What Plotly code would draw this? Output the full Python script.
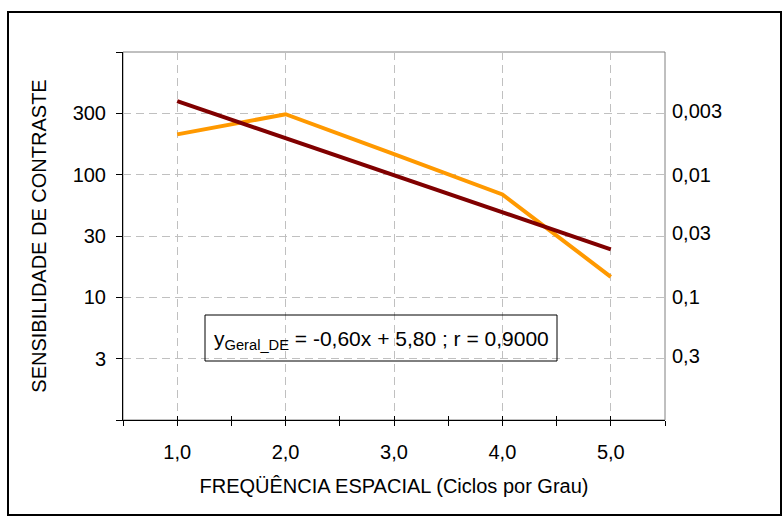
import plotly.graph_objects as go

# ---- data ----
freq = [1.0, 2.0, 3.0, 4.0, 5.0]
sens_geral_de = [213, 311, 147, 69, 14.7]
fit_freq = [1.0, 5.0]
fit_sens = [398, 24.6]

x_tick_vals = [1, 2, 3, 4, 5]
x_tick_text = ["1,0", "2,0", "3,0", "4,0", "5,0"]
x_minor_vals = [0.5, 1.5, 2.5, 3.5, 4.5, 5.5]
y_tick_exps = [0, 0.5, 1.0, 1.5, 2.0, 2.5, 3.0]
y_tick_text = ["", "3", "10", "30", "100", "300", ""]
right_tick_values = [0.003, 0.01, 0.03, 0.1, 0.3]
right_tick_text = ["0,003", "0,01", "0,03", "0,1", "0,3"]

equation = "y<sub>Geral_DE</sub> = -0,60x + 5,80 ; r = 0,9000"
x_title = "FREQÜÊNCIA ESPACIAL (Ciclos por Grau)"
y_title = "SENSIBILIDADE DE CONTRASTE"

FONT = "Liberation Sans, Arial, sans-serif"
W, H = 783, 517
L, R, T, B = 123, 118, 52, 97
pw, ph = W - L - R, H - T - B


def px_x(p):
    return (p - L) / pw


def px_y(p):
    return (T + ph - p) / ph


fig = go.Figure()
fig.add_trace(go.Scatter(x=freq, y=sens_geral_de, mode="lines",
                         line=dict(color="#FF9900", width=4),
                         showlegend=False))
fig.add_trace(go.Scatter(x=fit_freq, y=fit_sens, mode="lines",
                         line=dict(color="#800000", width=4),
                         showlegend=False))
# empty trace to create overlay axes (inner x ticks, right labels)
fig.add_trace(go.Scatter(x=[], y=[], xaxis="x2", yaxis="y2",
                         showlegend=False, hoverinfo="skip"))

all_x_ticks = sorted(x_tick_vals + x_minor_vals)

fig.update_layout(
    template="none",
    width=W, height=H, autosize=False,
    margin=dict(l=L, r=R, t=T, b=B, pad=0),
    paper_bgcolor="white", plot_bgcolor="white",
    font=dict(family=FONT, size=20, color="black"),
    xaxis=dict(
        range=[0.5, 5.5], tickmode="array", tickvals=x_tick_vals,
        ticktext=x_tick_text, ticks="outside", ticklen=5, tickcolor="black",
        tickwidth=1, showline=True, linecolor="black", linewidth=1,
        showgrid=True, gridcolor="#C0C0C0", griddash="8px,5px", gridwidth=1,
        zeroline=False, ticklabelstandoff=9, automargin=False,
        minor=dict(tickmode="array", tickvals=x_minor_vals, ticks="outside",
                   ticklen=5, tickcolor="black", tickwidth=1, showgrid=False),
        title=dict(text=x_title, font=dict(size=20), standoff=16),
        tickfont=dict(size=20),
    ),
    xaxis2=dict(
        range=[0.5, 5.5], overlaying="x", anchor="y", side="bottom",
        tickmode="array", tickvals=all_x_ticks, ticks="inside", ticklen=4,
        tickcolor="black", showticklabels=False, showgrid=False,
        showline=False, zeroline=False, automargin=False,
    ),
    yaxis=dict(
        type="log", range=[0, 3], tickmode="array",
        tickvals=[10 ** e for e in y_tick_exps], ticktext=y_tick_text,
        ticks="outside", ticklen=6, tickcolor="black", tickwidth=1,
        showline=True, linecolor="black", linewidth=1,
        showgrid=True, gridcolor="#C0C0C0", griddash="8px,5px", gridwidth=1,
        zeroline=False, ticklabelstandoff=6, automargin=False,
        title=dict(text=y_title, font=dict(size=20), standoff=20),
        tickfont=dict(size=20),
    ),
    yaxis2=dict(
        type="log", range=[0, 3], overlaying="y", anchor="x", side="right",
        tickmode="array", tickvals=[1 / v for v in right_tick_values],
        ticktext=right_tick_text, ticks="", showgrid=False, showline=False,
        zeroline=False, ticklabelstandoff=6, tickfont=dict(size=20),
        automargin=False,
    ),
    shapes=[
        # plot area frame (grey top/right)
        dict(type="rect", xref="paper", yref="paper", x0=0, x1=1, y0=0, y1=1,
             line=dict(color="#808080", width=1), layer="below"),
        # outer chart border
        dict(type="rect", xref="paper", yref="paper",
             x0=px_x(8), x1=px_x(781), y0=px_y(515), y1=px_y(12),
             line=dict(color="black", width=2), layer="above"),
        # equation box (transparent, grid visible through it)
        dict(type="rect", xref="paper", yref="paper",
             x0=px_x(205), x1=px_x(557), y0=px_y(361), y1=px_y(315),
             line=dict(color="black", width=1), layer="above"),
    ],
    annotations=[
        dict(text=equation, xref="paper", yref="paper",
             x=px_x(381), y=px_y(340),
             xanchor="center", yanchor="middle", showarrow=False,
             font=dict(size=21, color="black", family=FONT),
             borderwidth=0, borderpad=0, bgcolor="rgba(0,0,0,0)"),
    ],
)

fig.write_html(
    "out.html",
    config={"displayModeBar": False},
    post_script="document.body.style.margin='0';document.body.style.overflow='hidden';",
)
